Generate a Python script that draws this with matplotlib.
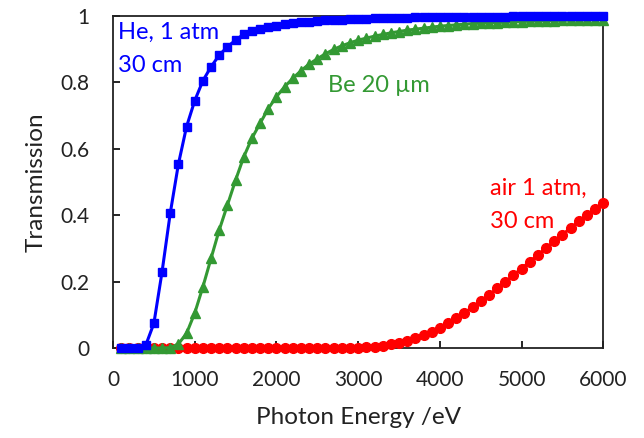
import matplotlib
matplotlib.use("Agg")
import matplotlib.pyplot as plt

energy = list(range(100, 6001, 100))

he_trans = [0.0, 0.0, 0.0, 0.008, 0.074, 0.229, 0.405, 0.553, 0.666, 0.744,
            0.804, 0.846, 0.881, 0.906, 0.926, 0.944, 0.953, 0.959, 0.965, 0.970,
            0.974, 0.977, 0.980, 0.982, 0.984, 0.986, 0.987, 0.988, 0.989, 0.990,
            0.991, 0.992, 0.993, 0.993, 0.994, 0.994, 0.995, 0.995, 0.995, 0.996,
            0.996, 0.996, 0.996, 0.997, 0.997, 0.997, 0.997, 0.997, 0.998, 0.998,
            0.998, 0.998, 0.998, 0.998, 0.998, 0.999, 0.999, 0.999, 0.999, 0.999]

be_trans = [0.0, 0.0, 0.0, 0.0, 0.0, 0.0, 0.001, 0.012, 0.044, 0.105,
            0.184, 0.270, 0.355, 0.430, 0.505, 0.575, 0.631, 0.676, 0.720, 0.756,
            0.786, 0.811, 0.834, 0.854, 0.870, 0.885, 0.898, 0.909, 0.918, 0.926,
            0.932, 0.938, 0.943, 0.948, 0.952, 0.956, 0.959, 0.962, 0.965, 0.968,
            0.970, 0.972, 0.974, 0.976, 0.977, 0.978, 0.979, 0.980, 0.981, 0.982,
            0.983, 0.984, 0.984, 0.985, 0.986, 0.986, 0.987, 0.987, 0.988, 0.988]

air_trans = [0.0] * 27 + [0.0002, 0.0006, 0.0013,
             0.0025, 0.0043, 0.0069, 0.0106, 0.0154, 0.0217, 0.0293, 0.0384, 0.049, 0.061,
             0.075, 0.090, 0.105, 0.123, 0.141, 0.159, 0.179, 0.199, 0.219, 0.239,
             0.260, 0.280, 0.301, 0.321, 0.341, 0.361, 0.381, 0.400, 0.419, 0.437]

x_ticks = [0, 1000, 2000, 3000, 4000, 5000, 6000]
y_ticks = [0, 0.2, 0.4, 0.6, 0.8, 1.0]
y_tick_labels = ["0", "0.2", "0.4", "0.6", "0.8", "1"]

plt.rcParams['font.family'] = ['Lato', 'DejaVu Sans']

fig = plt.figure(figsize=(6.44, 4.38), dpi=100)
ax = fig.add_axes([0.1755, 0.2055, 0.7613, 0.759])

blue = '#0000FF'
green = '#339933'
red = '#FF0000'

ax.plot(energy, air_trans, color=red, lw=2.2, marker='o', ms=7, mec=red, mfc=red, clip_on=False, zorder=3)
ax.plot(energy, be_trans, color=green, lw=2.2, marker='^', ms=7.5, mec=green, mfc=green, clip_on=False, zorder=4)
ax.plot(energy, he_trans, color=blue, lw=2.2, marker='s', ms=6, mec=blue, mfc=blue, clip_on=False, zorder=5)

ax.set_xlim(0, 6000)
ax.set_ylim(0, 1)
ax.set_xticks(x_ticks)
ax.set_xticklabels([str(t) for t in x_ticks])
ax.set_yticks(y_ticks)
ax.set_yticklabels(y_tick_labels)
ax.tick_params(direction='in', length=5, width=1.2, labelsize=15, colors='black', labelcolor='#222222')
ax.tick_params(axis='x', pad=16)
ax.tick_params(axis='y', pad=17)
for s in ax.spines.values():
    s.set_linewidth(1.3)
    s.set_color('#222222')

ax.set_xlabel('Photon Energy /eV', fontsize=17.5, color='#222222', labelpad=12)
ax.set_ylabel('Transmission', fontsize=17.5, color='#222222', labelpad=10)

ax.text(61, 0.931, 'He, 1 atm', color=blue, fontsize=17, va='baseline', ha='left', zorder=6)
ax.text(61, 0.831, '30 cm', color=blue, fontsize=17, va='baseline', ha='left', zorder=6)
ax.text(2628, 0.771, 'Be 20 µm', color=green, fontsize=17, va='baseline', ha='left')
ax.text(4614, 0.460, 'air 1 atm,', color=red, fontsize=17, va='baseline', ha='left')
ax.text(4614, 0.360, '30 cm', color=red, fontsize=17, va='baseline', ha='left')

fig.savefig('out.png', dpi=100)
